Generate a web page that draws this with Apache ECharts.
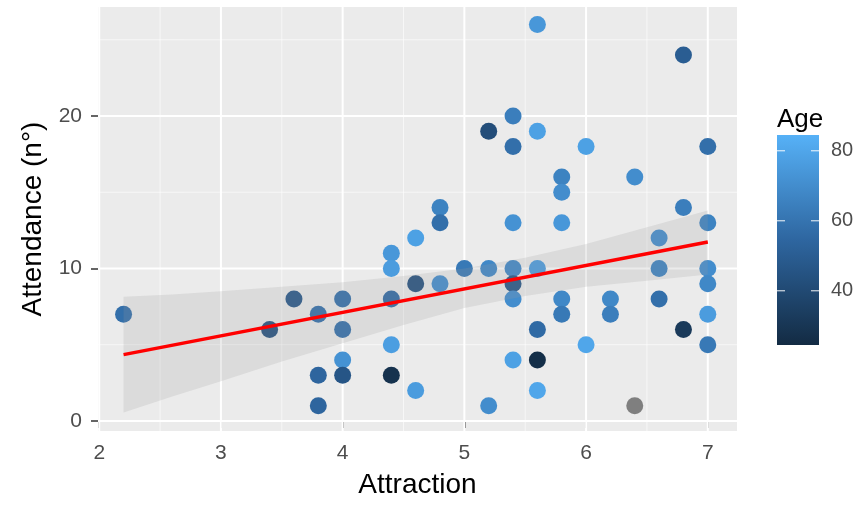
<!DOCTYPE html>
<html>
<head>
<meta charset="utf-8">
<script src="https://cdn.jsdelivr.net/npm/echarts@6/dist/echarts.min.js"></script>
<style>
  html, body { margin: 0; padding: 0; background: #ffffff; }
  #chart { width: 859px; height: 507px; }
</style>
</head>
<body>
<div id="chart"></div>
<script>
// Observations: attraction score, attendance count and age (null = age unknown)
const attraction = [
  2.2, 3.4, 3.6, 3.8, 3.8, 3.8, 4.0, 4.0, 4.0, 4.0,
  4.4, 4.4, 4.4, 4.4, 4.4, 4.6, 4.6, 4.6, 4.8, 4.8,
  4.8, 5.0, 5.2, 5.2, 5.2, 5.4, 5.4, 5.4, 5.4, 5.4,
  5.4, 5.4, 5.6, 5.6, 5.6, 5.6, 5.6, 5.6, 5.8, 5.8,
  5.8, 5.8, 5.8, 6.0, 6.0, 6.2, 6.2, 6.4, 6.4, 6.6,
  6.6, 6.6, 6.8, 6.8, 6.8, 7.0, 7.0, 7.0, 7.0, 7.0,
  7.0
];
const attendance = [
  7, 6, 8, 7, 3, 1, 8, 6, 4, 3,
  11, 10, 8, 5, 3, 12, 9, 2, 14, 13,
  9, 10, 19, 10, 1, 20, 18, 13, 10, 9,
  8, 4, 26, 19, 10, 6, 4, 2, 16, 15,
  13, 8, 7, 18, 5, 8, 7, 16, 1, 12,
  10, 8, 24, 14, 6, 18, 13, 10, 9, 7,
  5
];
const age = [
  58, 44, 47, 58, 54, 54, 58, 58, 72, 46,
  74, 76, 56, 77, 28, 78, 44, 76, 66, 58,
  70, 62, 42, 68, 70, 64, 58, 72, 68, 46,
  70, 78, 74, 78, 76, 56, 26, 80, 66, 70,
  74, 68, 62, 78, 80, 68, 64, 70, null, 70,
  66, 58, 50, 64, 32, 58, 66, 70, 68, 76,
  62
];

// Linear fit and its 95% confidence band
const fitX = [2.2, 7.0];
const fitY = [4.35, 11.74];
const bandX    = [2.2, 2.6, 3.0, 3.5, 4.0, 4.5, 5.0, 5.5, 6.0, 6.5, 7.0];
const bandLow  = [0.55, 1.6, 2.6, 3.9, 5.1, 6.3, 7.4, 8.2, 8.8, 9.2, 9.6];
const bandHigh = [8.15, 8.3, 8.5, 8.8, 9.1, 9.5, 10.0, 10.7, 11.6, 12.7, 13.8];

// Axis breaks
const xTicks = [2, 3, 4, 5, 6, 7];
const xMinor = [2.5, 3.5, 4.5, 5.5, 6.5];
const yTicks = [0, 10, 20];
const yMinor = [5, 15, 25];
const ageTicks = [40, 60, 80];
const ageRange = [24.5, 84.5];

const X_RANGE = [1.99, 7.24];
const Y_RANGE = [-0.66, 27.15];
const FONT = 'Liberation Sans, Arial, Helvetica, sans-serif';
const GRADIENT = ['#132B43', '#2E66A0', '#56B1F7'];

const known = [], unknown = [];
attraction.forEach((x, i) => {
  if (age[i] == null) unknown.push([x, attendance[i]]);
  else known.push([x, attendance[i], age[i]]);
});

// Grid lines: [value, kind] kind 0 = vertical major, 1 = vertical minor, 2 = horizontal major, 3 = horizontal minor
const gridLines = []
  .concat(xMinor.map(v => [v, 1]))
  .concat(yMinor.map(v => [v, 3]))
  .concat(xTicks.map(v => [v, 0]))
  .concat(yTicks.map(v => [v, 2]));

const chart = echarts.init(document.getElementById('chart'), null, { renderer: 'canvas' });

// Colour bar geometry
const bar = { x: 777, y: 135, w: 42, h: 210 };
const ageToY = v => bar.y + bar.h - (v - ageRange[0]) / (ageRange[1] - ageRange[0]) * bar.h;

const legendGraphics = [
  {
    type: 'text', left: bar.x, top: 107,
    style: { text: 'Age', font: '26px ' + FONT, fill: '#000' }
  },
  {
    type: 'rect',
    shape: { x: bar.x, y: bar.y, width: bar.w, height: bar.h },
    style: {
      fill: new echarts.graphic.LinearGradient(0, 1, 0, 0, [
        { offset: 0, color: GRADIENT[0] },
        { offset: 0.5, color: GRADIENT[1] },
        { offset: 1, color: GRADIENT[2] }
      ])
    }
  }
];
ageTicks.forEach(v => {
  const y = ageToY(v);
  legendGraphics.push(
    { type: 'line', shape: { x1: bar.x, y1: y, x2: bar.x + 8, y2: y }, style: { stroke: 'rgba(255,255,255,0.8)', lineWidth: 1.2 } },
    { type: 'line', shape: { x1: bar.x + bar.w - 8, y1: y, x2: bar.x + bar.w, y2: y }, style: { stroke: 'rgba(255,255,255,0.8)', lineWidth: 1.2 } },
    { type: 'text', x: bar.x + bar.w + 12, y: y, style: { text: String(v), font: '20px ' + FONT, fill: '#4D4D4D', verticalAlign: 'middle' } }
  );
});

const option = {
  animation: false,
  backgroundColor: '#ffffff',
  grid: {
    left: 98, right: 122, top: 7, bottom: 76,
    show: true, backgroundColor: '#EBEBEB', borderWidth: 0
  },
  xAxis: {
    type: 'value', min: X_RANGE[0], max: X_RANGE[1],
    axisLine: { show: false },
    splitLine: { show: false },
    axisTick: { show: true, length: 7, lineStyle: { color: '#333333', width: 1.5 }, customValues: xTicks },
    axisLabel: { customValues: xTicks, fontSize: 21, fontFamily: FONT, color: '#4D4D4D', margin: 12 },
    name: 'Attraction', nameLocation: 'middle', nameGap: 40,
    nameTextStyle: { fontSize: 28, fontFamily: FONT, color: '#000000' }
  },
  yAxis: {
    type: 'value', min: Y_RANGE[0], max: Y_RANGE[1],
    axisLine: { show: false },
    splitLine: { show: false },
    axisTick: { show: true, length: 7, lineStyle: { color: '#333333', width: 1.5 }, customValues: yTicks },
    axisLabel: { customValues: yTicks, fontSize: 21, fontFamily: FONT, color: '#4D4D4D', margin: 16 },
    name: 'Attendance (n°)', nameLocation: 'middle', nameGap: 50,
    nameTextStyle: { fontSize: 28, fontFamily: FONT, color: '#000000' }
  },
  visualMap: {
    show: false, type: 'continuous', seriesIndex: 1, dimension: 2,
    min: ageRange[0], max: ageRange[1],
    inRange: { color: GRADIENT }
  },
  graphic: legendGraphics,
  series: [
    {
      // panel grid lines
      type: 'custom', silent: true, z: 1,
      data: gridLines,
      renderItem: (params, api) => {
        const v = api.value(0), kind = api.value(1);
        let p1, p2;
        if (kind < 2) { p1 = api.coord([v, Y_RANGE[0]]); p2 = api.coord([v, Y_RANGE[1]]); }
        else { p1 = api.coord([X_RANGE[0], v]); p2 = api.coord([X_RANGE[1], v]); }
        const major = kind === 0 || kind === 2;
        return {
          type: 'line',
          shape: { x1: p1[0], y1: p1[1], x2: p2[0], y2: p2[1] },
          style: { stroke: major ? '#FFFFFF' : 'rgba(255,255,255,0.6)', lineWidth: major ? 2 : 1 }
        };
      }
    },
    {
      type: 'scatter', z: 2,
      symbolSize: 17,
      data: known,
      itemStyle: { opacity: 1 }
    },
    {
      type: 'scatter', z: 2,
      symbolSize: 17,
      data: unknown,
      itemStyle: { color: '#7F7F7F', opacity: 1 }
    },
    {
      // confidence band
      type: 'custom', silent: true, z: 3,
      data: [[bandX[0], bandLow[0]]],
      renderItem: (params, api) => {
        const pts = [];
        bandX.forEach((x, i) => pts.push(api.coord([x, bandHigh[i]])));
        for (let i = bandX.length - 1; i >= 0; i--) pts.push(api.coord([bandX[i], bandLow[i]]));
        return {
          type: 'polygon',
          shape: { points: pts },
          style: { fill: 'rgba(153,153,153,0.2)' }
        };
      }
    },
    {
      type: 'line', z: 4,
      data: fitX.map((x, i) => [x, fitY[i]]),
      symbol: 'none',
      lineStyle: { color: '#FF0000', width: 3.5 }
    }
  ]
};

chart.setOption(option);
</script>
</body>
</html>
